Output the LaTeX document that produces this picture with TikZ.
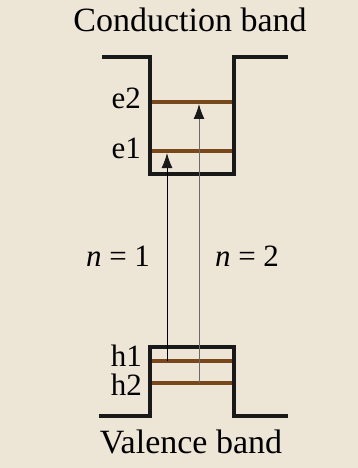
\documentclass[tikz,border=0pt]{standalone}
\usepackage{fontspec}
\setmainfont{Liberation Serif}
\usepackage{xcolor}
\usetikzlibrary{arrows.meta, positioning}
\definecolor{bgbeige}{RGB}{237,229,214}
\definecolor{levelbrown}{RGB}{118,72,28}
\definecolor{ntwogray}{RGB}{105,105,105}
\tikzstyle{band}      = [line width=4.5pt, line join=miter, black!90]
\tikzstyle{level}     = [line width=4pt, levelbrown]
\tikzstyle{trans}     = [line width=1pt, -{Latex[length=15pt, width=11pt, black!90]}]
\tikzstyle{title}     = [font=\fontsize{34}{40}\selectfont, anchor=base, inner sep=0pt]
\tikzstyle{lvllabel}  = [font=\fontsize{31}{36}\selectfont, anchor=base east, inner sep=0pt]
\tikzstyle{nlabel}    = [font=\fontsize{31}{36}\selectfont, anchor=base, inner sep=0pt]

\begin{document}
\begin{tikzpicture}[x=1pt, y=-1pt]
    \fill[bgbeige] (0,0) rectangle (358,468);
    \useasboundingbox (0,0) rectangle (358,468);

    % energy levels
    \draw [level] (150,102) -- (234,102);
    \draw [level] (150,151) -- (234,151);
    \draw [level] (150,361) -- (234,361);
    \draw [level] (150,383) -- (234,383);

    % conduction and valence band edges
    \draw [band] (102,57) -- (150,57) -- (150,174) -- (234,174) -- (234,57) -- (288,57);
    \draw [band] (99,416) -- (150,416) -- (150,347) -- (234,347) -- (234,416) -- (288,416);

    \node (cb) at (190,32)  [title] {Conduction band};
    \node (vb) at (191,453) [title] {Valence band};

    \node (e2) at (141,109) [lvllabel] {e2};
    \node (e1) at (141,158) [lvllabel] {e1};
    \node (h1) at (142,366) [lvllabel] {h1};
    \node (h2) at (142,395) [lvllabel] {h2};

    \node (n1) at (118,266) [nlabel] {\textit{n} = 1};
    \node (n2) at (247,266) [nlabel] {\textit{n} = 2};

    \coordinate (h1a) at (167,361);
    \coordinate (e1a) at (167,153);
    \coordinate (h2a) at (199,383);
    \coordinate (e2a) at (199,104);

    \draw [trans]                 (h1a) -- (e1a);
    \draw [trans, color=ntwogray] (h2a) -- (e2a);
\end{tikzpicture}
\end{document}
